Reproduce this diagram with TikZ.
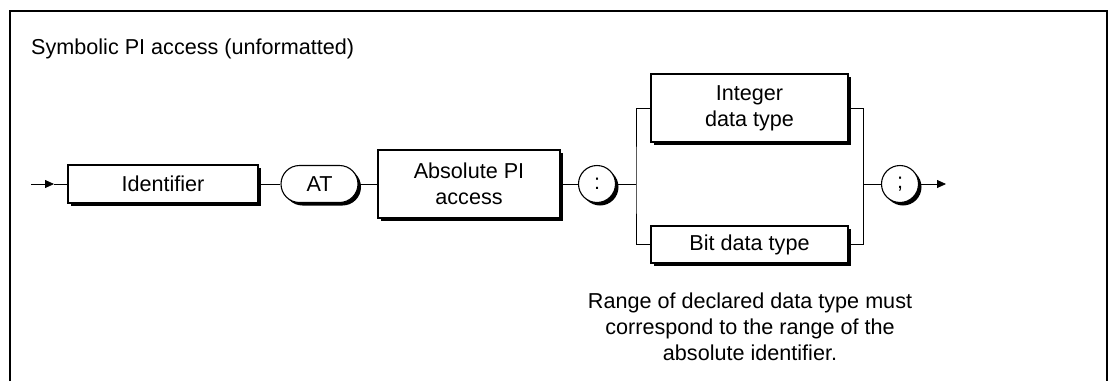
\documentclass[tikz,border=0pt]{standalone}
\usepackage{fontspec}
\setmainfont{Liberation Sans}
\usetikzlibrary{arrows.meta,shadows}
\begin{document}
\begin{tikzpicture}[x=1pt,y=-1pt,
  txt/.style={font=\fontsize{21.6}{26}\selectfont},
  shad/.style={drop shadow={shadow xshift=3pt,shadow yshift=-3pt,fill=black,opacity=1}},
  box/.style={txt,draw,fill=white,line width=1.1pt,inner sep=0pt,align=center,shad},
  term/.style={box,rounded corners=18.5pt,minimum width=77pt,minimum height=37pt},
  circ/.style={txt,draw,fill=white,line width=1.1pt,circle,inner sep=0pt,minimum size=37pt,shad},
  conn/.style={line width=0.8pt},
  arr/.style={conn,-{Triangle[length=9pt,width=8pt]}}
]
\useasboundingbox (0,0) rectangle (1111,381);
\draw[line width=1.6pt] (10,381) -- (10,11) -- (1107,11) -- (1107,381);
\node[txt,anchor=west,inner sep=0pt] (title) at (31,49) {Symbolic PI access (unformatted)};

\coordinate (start) at (31,184);
\node[box,minimum width=190pt,minimum height=38pt] (ident) at (163,184) {Identifier};
\node[term] (at) at (319.5,184) {AT};
\node[box,minimum width=182pt,minimum height=68pt] (abs) at (469,184) {Absolute PI\\access};
\node[circ] (colon) at (597,184) {:};
\node[box,minimum width=197pt,minimum height=68pt] (int) at (749.5,108) {Integer\\data type};
\node[box,minimum width=197pt,minimum height=37pt] (bit) at (749.5,244.5) {Bit data type};
\node[circ] (semi) at (900,184) {;};
\coordinate (endp) at (946,184);
\coordinate (bl) at (636,184);
\coordinate (br) at (863,184);

\draw[arr] (start) -- (54,184);
\draw[conn] (54,184) -- (ident.west);
\draw[conn] (ident) -- (at);
\draw[conn] (at) -- (abs);
\draw[conn] (abs) -- (colon);
\draw[conn] (colon) -- (bl);
\draw[conn] (int.west) -| (bl) |- (bit.west);
\draw[conn] (int.east) -| (br) |- (bit.east);
\draw[conn] (br) -- (semi);
\draw[arr] (semi) -- (endp);

\node[txt,align=center] (note) at (750,327) {Range of declared data type must\\correspond to the range of the\\absolute identifier.};
\end{tikzpicture}
\end{document}
